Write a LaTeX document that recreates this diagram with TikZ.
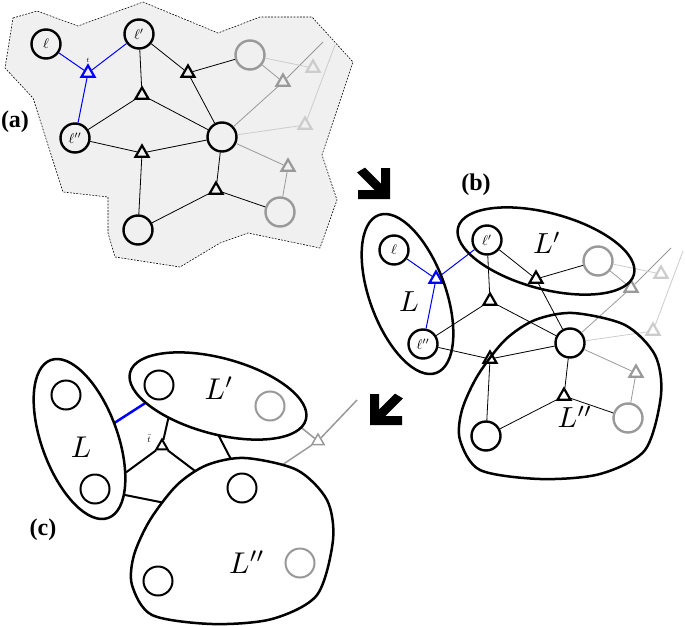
\documentclass[tikz,border=0pt]{standalone}
\usepackage{amsmath, amssymb}
\usepackage{fontspec}
\setmainfont{Liberation Serif}
\usepackage{tikz}
\usetikzlibrary{shapes.geometric, calc}

\definecolor{midgray}{HTML}{999999}
\definecolor{palegray}{HTML}{CCCCCC}
\definecolor{panelfill}{HTML}{F0F0F0}
\definecolor{tblue}{HTML}{0000FF}

\begin{document}
\begin{tikzpicture}[x=1pt, y=-1pt,
		leaf_vertex/.style={circle,draw=black,line width=2.4pt,inner sep=0pt,minimum size=29pt},
		gray_vertex/.style={leaf_vertex,draw=midgray},
		small_vertex/.style={leaf_vertex,line width=2pt,fill=white},
		small_gray_vertex/.style={small_vertex,draw=midgray},
		tri_vertex/.style={regular polygon,regular polygon sides=3,draw=black,line width=2.2pt,inner sep=0pt,minimum size=15pt},
		blue_tri/.style={tri_vertex,draw=tblue},
		gray_tri/.style={tri_vertex,draw=midgray},
		pale_tri/.style={tri_vertex,draw=palegray},
		thin_edge/.style={line width=0.8pt,black},
		blue_edge/.style={line width=1pt,tblue},
		gray_edge/.style={line width=0.8pt,midgray},
		pale_edge/.style={line width=0.8pt,palegray},
		thick_edge/.style={line width=2pt,black},
		thick_blue_edge/.style={line width=2.5pt,tblue},
		thick_gray_edge/.style={line width=1.5pt,midgray},
		cluster/.style={line width=2.5pt,black},
		panel_label/.style={font=\fontsize{24}{28}\selectfont\bfseries}
		]
		
		\useasboundingbox (0,0) rectangle (685,626);
		
		% shaded region of (a)
		\draw[fill=panelfill, line width=0.6pt, dash pattern=on 1.8pt off 1.4pt] (13,18) -- (37,11) -- (78,26) -- (143,2) -- (218,33) -- (260,17) -- (312,17) -- (353,62) -- (322,155) -- (337,200) -- (320,248) -- (248,233) -- (220,243) -- (180,267) -- (115,257) -- (108,233) -- (108,197) -- (63,192) -- (33,98) -- (5,68) -- cycle;
		
		% the graph, once for (a) and once for (b)
		\foreach \pfx/\dx/\dy in {a/0/0, b/348/206} {
			\begin{scope}[shift={(\dx,\dy)}, name prefix=\pfx-]
				\node[leaf_vertex] (l) at (46,44) {\scalebox{1.4}{$\ell$}};
				\node[leaf_vertex] (lp) at (139,34) {\scalebox{1.4}{$\ell'$}};
				\node[leaf_vertex] (lpp) at (75,138) {\scalebox{1.4}{$\ell''$}};
				\node[leaf_vertex] (c) at (222,137) {};
				\node[leaf_vertex] (bot) at (138,230) {};
				\node[gray_vertex] (g1) at (250,55) {};
				\node[gray_vertex] (g2) at (280,212) {};
				\node[blue_tri] (t) at (88,73) {};
				\node[tri_vertex] (t1) at (142,95) {};
				\node[tri_vertex] (t2) at (188,73) {};
				\node[tri_vertex] (t3) at (142,153) {};
				\node[tri_vertex] (t4) at (216,190) {};
				\node[gray_tri] (gt1) at (283,82) {};
				\node[gray_tri] (gt2) at (288,167) {};
				\node[pale_tri] (pt1) at (313,68) {};
				\node[pale_tri] (pt2) at (305,125) {};
				\coordinate (e1) at (323,42);
				\coordinate (e2) at (335,45);
				
				\draw[blue_edge] (l) -- (t); \draw[blue_edge] (lp) -- (t); \draw[blue_edge] (lpp) -- (t);
				\draw[thin_edge] (lp) -- (t1); \draw[thin_edge] (t1) -- (lpp); \draw[thin_edge] (t1) -- (c);
				\draw[thin_edge] (lp) -- (t2); \draw[thin_edge] (t2) -- (g1); \draw[thin_edge] (t2) -- (c);
				\draw[thin_edge] (lpp) -- (t3); \draw[thin_edge] (t3) -- (c); \draw[thin_edge] (t3) -- (bot);
				\draw[thin_edge] (c) -- (t4); \draw[thin_edge] (t4) -- (bot); \draw[thin_edge] (t4) -- (g2);
				\draw[gray_edge] (g1) -- (gt1); \draw[gray_edge] (c) -- (gt1) -- (e1);
				\draw[gray_edge] (c) -- (gt2); \draw[gray_edge] (gt2) -- (g2);
				\draw[pale_edge] (g1) -- (pt1); \draw[pale_edge] (c) -- (pt2) -- (e2);
			\end{scope}
		}
		\node[font=\scriptsize] (t_label) at (88,60) {$t$};
		
		% (c): edges between the clusters
		\begin{scope}[shift={(20,351)}, name prefix=c-]
			\node[tri_vertex, line width=2pt, minimum size=13pt] (tbar) at (142,95) {};
			\node[font=\small, inner sep=1pt] (tbar_label) at (129,88) {$\bar t$};
			\node[gray_tri, line width=1.5pt, minimum size=14pt] (gt) at (298,90) {};
			\coordinate (in_l1) at (97,128); \coordinate (in_l2) at (95,142); \coordinate (in_l3) at (85,78);
			\coordinate (in_lp1) at (150,60); \coordinate (in_lp2) at (190,68); \coordinate (in_lp3) at (130,49); \coordinate (in_lp4) at (268,66);
			\coordinate (in_lpp1) at (195,135); \coordinate (in_lpp2) at (160,155); \coordinate (in_lpp3) at (215,116); \coordinate (in_lpp4) at (250,122);
			\coordinate (g_end) at (337,49);
			
			\draw[thick_edge] (tbar) -- (in_lp1); \draw[thick_edge] (tbar) -- (in_l1); \draw[thick_edge] (tbar) -- (in_lpp1);
			\draw[thick_edge] (in_l2) -- (in_lpp2); \draw[thick_edge] (in_lp2) -- (in_lpp3);
			\draw[thick_blue_edge] (in_l3) -- (in_lp3);
			\draw[thick_gray_edge] (in_lp4) -- (gt); \draw[thick_gray_edge] (in_lpp4) -- (gt) -- (g_end);
		\end{scope}
		
		% clusters L, L', L'' in (b) and (c)
		\foreach \pfx/\dx/\dy/\fs/\fillc in {b/348/206/2.9/none, c/20/351/3.0/white} {
			\begin{scope}[shift={(\dx,\dy)}, name prefix=\pfx-]
				\draw[cluster, fill=\fillc, rotate around={-70:(59.5,88)}] (59.5,88) ellipse [x radius=84, y radius=38];
				\draw[cluster, fill=\fillc, rotate around={-15:(198,45)}] (198,45) ellipse [x radius=91, y radius=38];
				\draw[cluster, fill=\fillc] plot[smooth cycle] coordinates {(225,107) (277,119) (307,149) (313,189) (297,244) (252,268) (192,273) (132,264) (112,234) (114,204) (130,169) (157,134) (187,114)};
				\node[scale=\fs] (L_label) at (61,96) {$L$};
				\node[scale=\fs] (Lp_label) at (199,37) {$L'$};
				\node[scale=\fs] (Lpp_label) at (227,211) {$L''$};
			\end{scope}
		}
		
		% (c): the circles inside the clusters
		\begin{scope}[shift={(20,351)}, name prefix=c-]
			\node[small_vertex] (l) at (46,44) {};
			\node[small_vertex] (lpp) at (75,138) {};
			\node[small_vertex] (lp) at (139,34) {};
			\node[small_gray_vertex] (g1) at (250,55) {};
			\node[small_vertex] (c) at (222,137) {};
			\node[small_vertex] (bot) at (138,230) {};
			\node[small_gray_vertex] (g2) at (280,212) {};
		\end{scope}
		
		\fill[black] (390,168) -- (390,199) -- (358,199) -- (358,190) -- (374.6,190) -- (357,172.4) -- (365,167.6) -- (381,183.6) -- (381,168) -- cycle;
		\fill[black] (370,394) -- (370,425) -- (402,425) -- (402,416) -- (385.4,416) -- (403,398.4) -- (395,393.6) -- (379,409.6) -- (379,394) -- cycle;
		
		\node[panel_label] (lab_a) at (15,122) {(a)};
		\node[panel_label] (lab_b) at (476,185) {(b)};
		\node[panel_label] (lab_c) at (43,530) {(c)};
	\end{tikzpicture}
\end{document}
